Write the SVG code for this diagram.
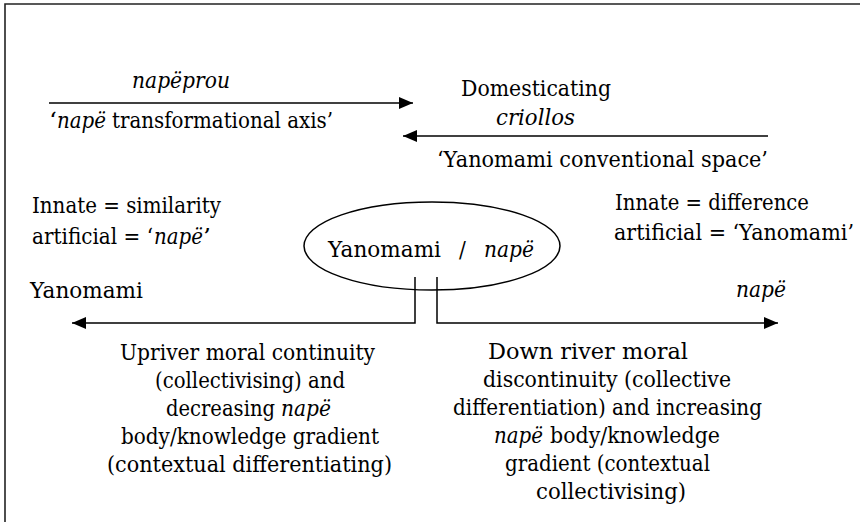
<svg xmlns="http://www.w3.org/2000/svg" width="860" height="522" viewBox="0 0 860 522">
<defs>
<style>
text{font-family:'DejaVu Serif',serif;font-size:20.3px;fill:#000;transform:scale(1,1.12)}
.i{font-style:italic}
.ln{fill:none;stroke:#000;stroke-width:1.5}
.fr{fill:none;stroke:#222;stroke-width:1.6}
</style>
<marker id="ah" markerUnits="userSpaceOnUse" markerWidth="15" markerHeight="13" refX="14" refY="6" orient="auto">
<path d="M0,0 L14,6 L0,12 z" fill="#000"/>
</marker>
</defs>
<rect width="860" height="522" fill="#fff"/>
<path class="fr" d="M5,523 L5,4 L861,4"/>
<g id="connectors">
<line class="ln" x1="49" y1="103" x2="413" y2="103" marker-end="url(#ah)"/>
<line class="ln" x1="768" y1="136" x2="403" y2="136" marker-end="url(#ah)"/>
<polyline class="ln" points="415,277 415,323 72,323" marker-end="url(#ah)"/>
<polyline class="ln" points="437,277 437,323 778,323" marker-end="url(#ah)"/>
</g>
<g id="axis-napeprou">
<text class="i" x="132" y="78.57" textLength="98" lengthAdjust="spacingAndGlyphs">napëprou</text>
<text x="49" y="114.29" textLength="8" lengthAdjust="spacingAndGlyphs">‘</text>
<text class="i" x="57" y="114.29" textLength="49" lengthAdjust="spacingAndGlyphs">napë</text>
<text x="112" y="114.29" textLength="221" lengthAdjust="spacingAndGlyphs">transformational axis’</text>
</g>
<g id="domesticating">
<text x="461" y="85.71" textLength="150" lengthAdjust="spacingAndGlyphs">Domesticating</text>
<text class="i" x="496" y="111.61" textLength="79" lengthAdjust="spacingAndGlyphs">criollos</text>
<text x="437" y="149.11" textLength="331" lengthAdjust="spacingAndGlyphs">‘Yanomami conventional space’</text>
</g>
<g id="left-innate">
<text x="32" y="190.18" textLength="189" lengthAdjust="spacingAndGlyphs">Innate = similarity</text>
<text x="32" y="217.86" textLength="121" lengthAdjust="spacingAndGlyphs">artificial = ‘</text>
<text class="i" x="154" y="217.86" textLength="49" lengthAdjust="spacingAndGlyphs">napë</text>
<text x="203" y="217.86" textLength="8" lengthAdjust="spacingAndGlyphs">’</text>
</g>
<g id="right-innate">
<text x="615" y="187.5" textLength="194" lengthAdjust="spacingAndGlyphs">Innate = difference</text>
<text x="614" y="214.29" textLength="240" lengthAdjust="spacingAndGlyphs">artificial = ‘Yanomami’</text>
</g>
<g id="center">
<ellipse class="ln" cx="432" cy="246" rx="128" ry="44"/>
<text x="328" y="229.46" textLength="113" lengthAdjust="spacingAndGlyphs">Yanomami</text>
<text x="459" y="229.46">/</text>
<text class="i" x="484" y="229.46" textLength="50" lengthAdjust="spacingAndGlyphs">napë</text>
</g>
<g id="label-yanomami">
<text x="30" y="266.07" textLength="113" lengthAdjust="spacingAndGlyphs">Yanomami</text>
</g>
<g id="label-nape">
<text class="i" x="736" y="265.18" textLength="50" lengthAdjust="spacingAndGlyphs">napë</text>
</g>
<g id="upriver">
<text x="120" y="321.43" textLength="255" lengthAdjust="spacingAndGlyphs">Upriver moral continuity</text>
<text x="155" y="346.43" textLength="190" lengthAdjust="spacingAndGlyphs">(collectivising) and</text>
<text x="166" y="371.43" textLength="109" lengthAdjust="spacingAndGlyphs">decreasing</text>
<text class="i" x="281" y="371.43" textLength="50" lengthAdjust="spacingAndGlyphs">napë</text>
<text x="121" y="396.43" textLength="258" lengthAdjust="spacingAndGlyphs">body/knowledge gradient</text>
<text x="107" y="421.43" textLength="285" lengthAdjust="spacingAndGlyphs">(contextual differentiating)</text>
</g>
<g id="downriver">
<text x="488" y="320.54" textLength="200" lengthAdjust="spacingAndGlyphs">Down river moral</text>
<text x="483" y="345.54" textLength="248" lengthAdjust="spacingAndGlyphs">discontinuity (collective</text>
<text x="453" y="370.54" textLength="309" lengthAdjust="spacingAndGlyphs">differentiation) and increasing</text>
<text class="i" x="494" y="395.54" textLength="49" lengthAdjust="spacingAndGlyphs">napë</text>
<text x="550" y="395.54" textLength="170" lengthAdjust="spacingAndGlyphs">body/knowledge</text>
<text x="505" y="420.54" textLength="205" lengthAdjust="spacingAndGlyphs">gradient (contextual</text>
<text x="536" y="445.54" textLength="150" lengthAdjust="spacingAndGlyphs">collectivising)</text>
</g>
</svg>
